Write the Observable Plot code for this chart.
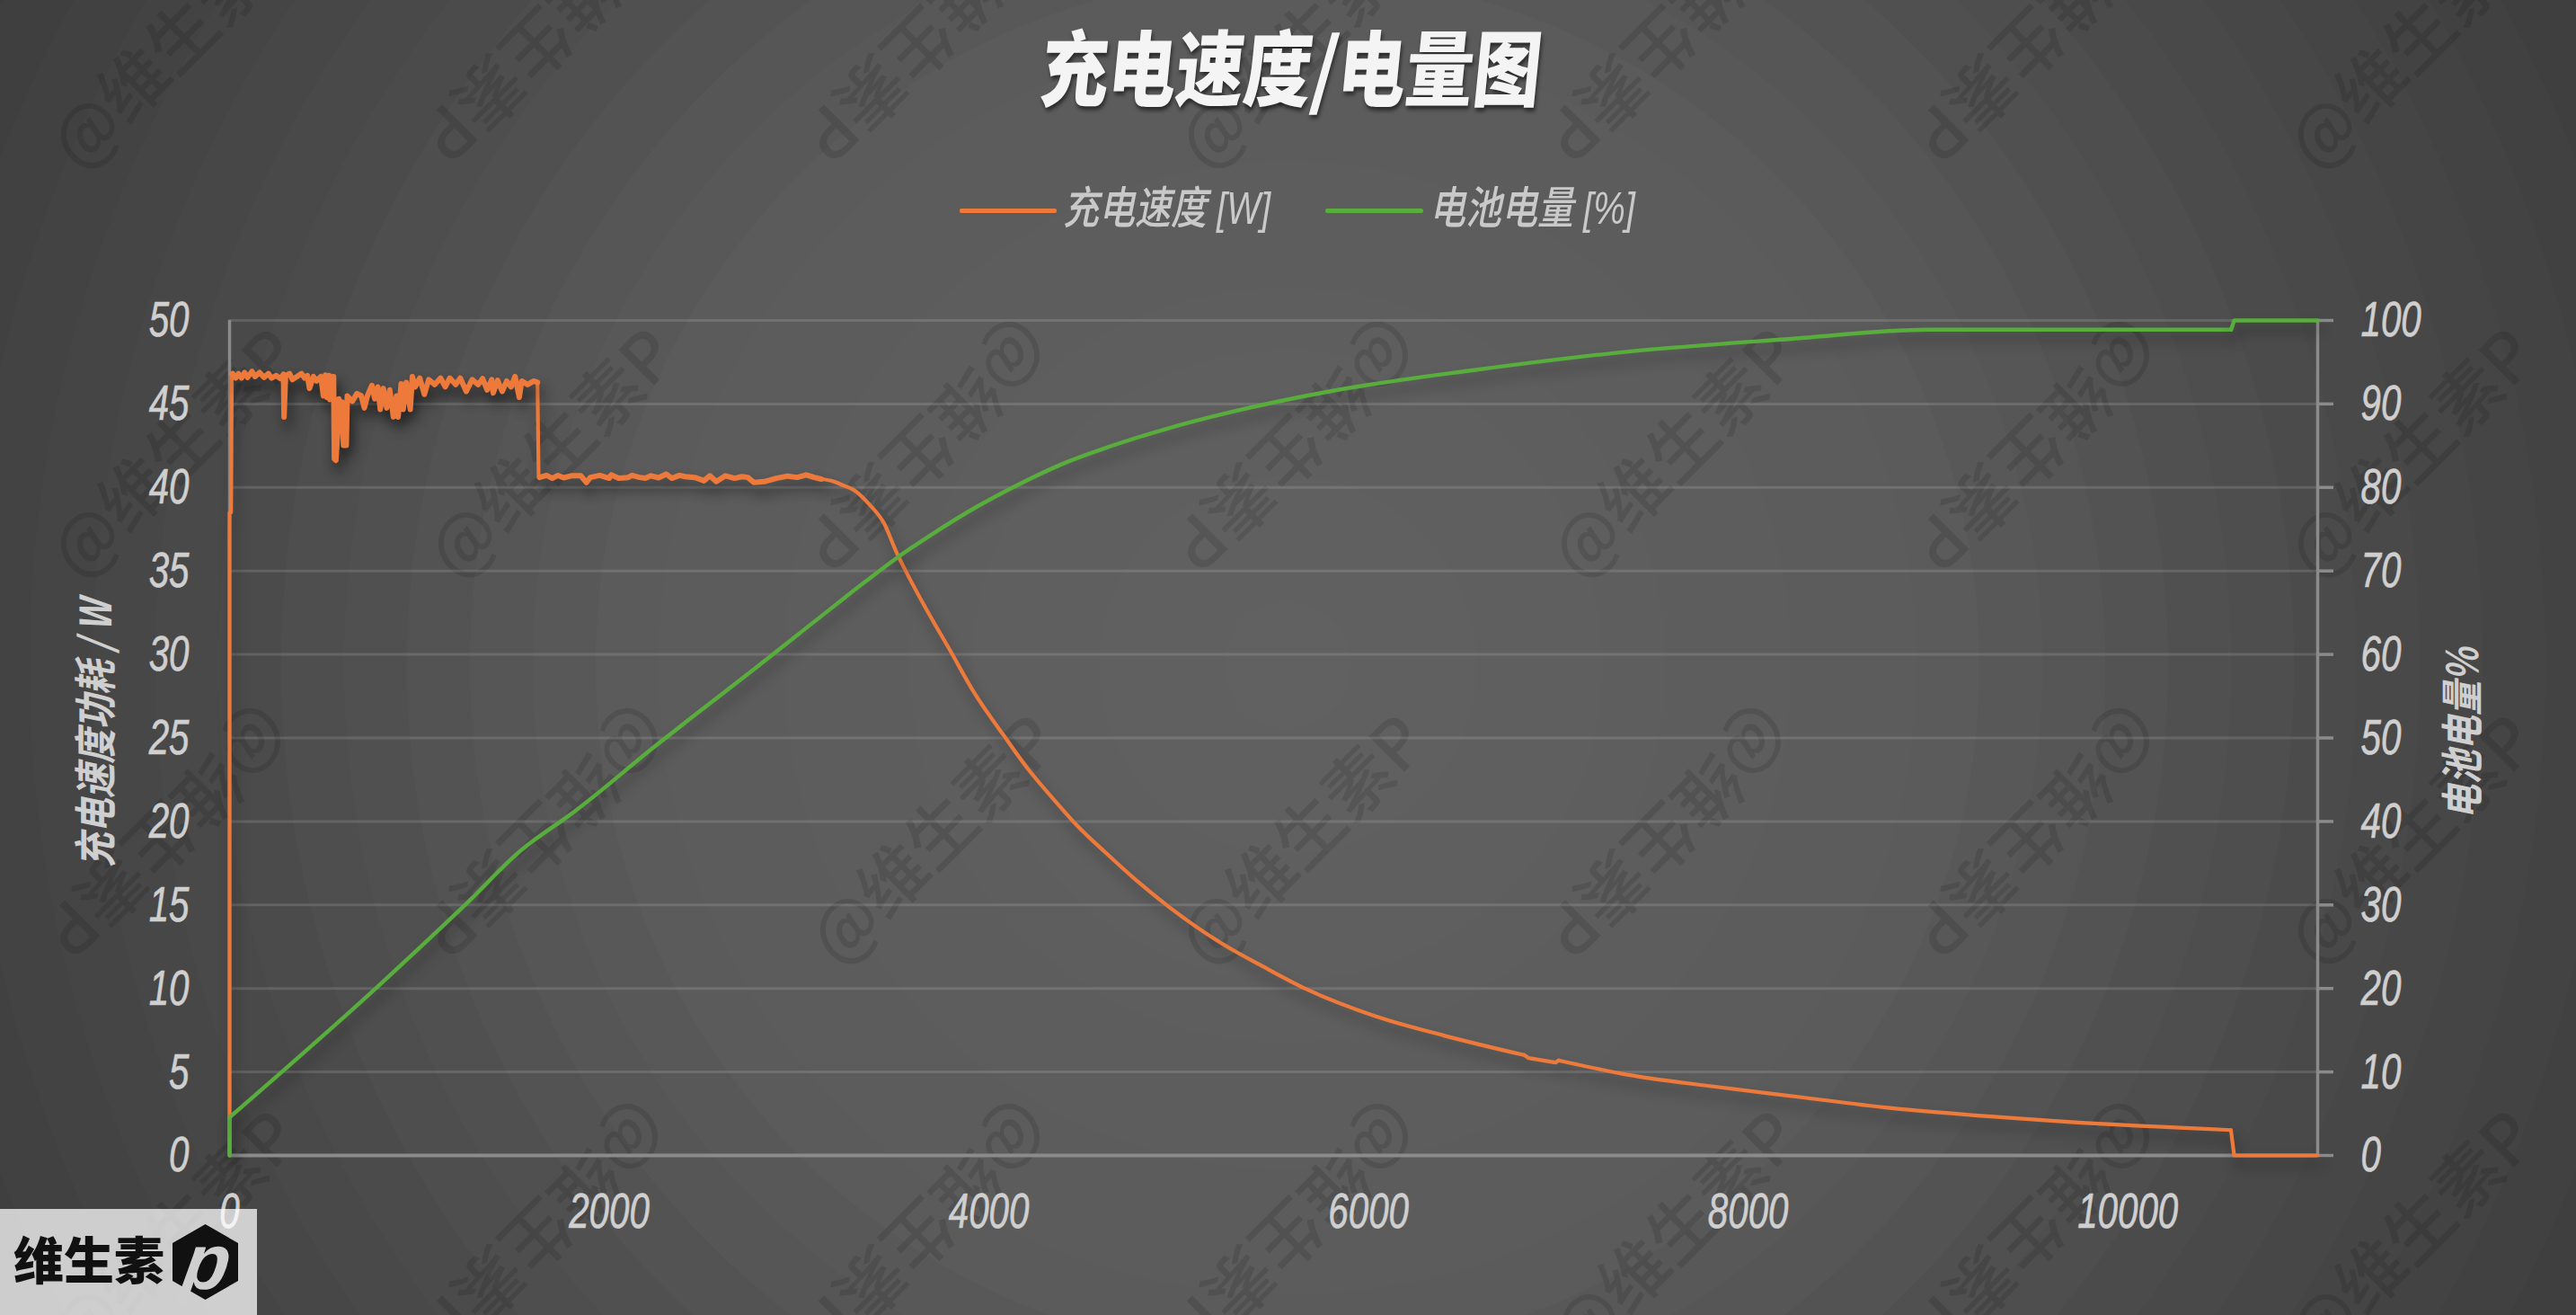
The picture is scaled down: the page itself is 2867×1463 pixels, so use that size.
<!DOCTYPE html>
<html lang="zh">
<head>
<meta charset="utf-8">
<script src="https://cdn.jsdelivr.net/npm/d3@7"></script>
<script src="https://cdn.jsdelivr.net/npm/@observablehq/plot@0.6"></script>
<style>
html,body{margin:0;padding:0;width:2867px;height:1463px;overflow:hidden;background:#4a4a4a;}
#page{position:absolute;left:0;top:0;width:2867px;height:1463px;overflow:hidden;font-family:"Liberation Sans","Noto Sans CJK SC",sans-serif;}
#marks,#chart,#over{position:absolute;left:0;top:0;width:2867px;height:1463px;}
.wm{position:absolute;white-space:nowrap;font:500 76px "Noto Sans CJK SC",sans-serif;color:rgba(0,0,0,.115);line-height:1;transform-origin:center center;}
#title{position:absolute;left:1438px;top:16px;white-space:nowrap;font:900 92px/1.2 "Noto Sans CJK SC",sans-serif;color:#f4f4f4;text-shadow:2px 4px 5px rgba(0,0,0,.55);transform:translateX(-50%) scaleX(.82) skewX(-7deg);}
.swatch{position:absolute;top:232px;height:5px;border-radius:2px;}
.lg{position:absolute;top:202px;white-space:nowrap;font:italic 500 50px/1.2 "Liberation Sans","Noto Sans CJK SC",sans-serif;color:#c9c9c9;transform-origin:left center;transform:scaleX(.8);}
#logo{position:absolute;left:0;top:1345px;width:286px;height:118px;background:rgba(255,255,255,.74);}
#logo .name{position:absolute;left:15px;top:20px;font:900 56px/1.2 "Noto Sans CJK SC",sans-serif;color:#111;white-space:nowrap;}
#logo .hex{position:absolute;left:192px;top:17px;width:73px;height:84px;background:#111;clip-path:polygon(50% 0,100% 25%,100% 75%,50% 100%,0 75%,0 25%);}
#logo .p{position:absolute;left:204px;top:6px;font:italic 700 88px/1.2 "Liberation Sans",sans-serif;color:#cfcfcf;transform:skewX(-10deg) scaleX(.95);}
.series{filter:drop-shadow(4px 10px 7px rgba(0,0,0,.33));}
g[aria-label$="tick label"] text{stroke:#cfcfcf;stroke-width:.7px;}
</style>
</head>
<body>
<div id="page">
  <div id="marks"></div>
  <div id="chart"></div>
  <div id="over">
    <div id="title">充电速度/电量图</div>
    <div class="swatch" style="left:1068px;width:108px;background:#ed7a3a"></div>
    <div class="lg" style="left:1183px">充电速度 [W]</div>
    <div class="swatch" style="left:1475px;width:109px;background:#58ad3c"></div>
    <div class="lg" style="left:1591px">电池电量 [%]</div>
    <div id="logo"><div class="name">维生素</div><div class="hex"></div><div class="p">p</div></div>
  </div>
</div>
<script>
// Charging power [W]: time (s) and watts
const powerTime = [0,0,8,12,16,32,47,63,79,95,118,134,158,181,205,221,245,268,284,287,295,316,331,355,379,395,410,421,442,458,481,494,505,513,524,529,544,548,552,560,568,576,584,592,600,615,620,647,671,694,710,726,750,765,781,794,810,828,844,863,879,888,904,915,931,952,963,978,1002,1026,1049,1081,1112,1136,1160,1191,1215,1247,1278,1310,1333,1357,1381,1389,1412,1436,1460,1483,1504,1526,1539,1570,1602,1622,1628,1633,1670,1700,1730,1760,1800,1850,1880,1900,1950,2000,2010,2050,2100,2120,2160,2190,2220,2260,2300,2330,2370,2400,2450,2500,2530,2564,2612,2660,2700,2730,2762,2817,2880,2940,2990,3038,3080,3117,3180,3227,3291,3369,3448,3512,3575,3669,3796,3922,4080,4206,4332,4459,4616,4774,4948,5220,5461,5672,6035,6397,6820,6844,6986,7001,7363,7817,8270,8722,9176,9683,10543,10560,11000];
const powerWatt = [0,38.5,38.5,46.8,46.82,46.55,46.82,46.55,46.88,46.59,46.95,46.64,46.88,46.59,46.82,46.55,46.70,46.52,46.77,44.22,46.70,46.82,46.46,46.64,46.82,46.55,46.70,45.93,46.64,46.37,46.64,45.48,46.73,45.39,46.70,45.26,46.64,46.64,41.71,41.62,42.97,45.30,43.33,45.12,42.52,42.52,45.48,45.16,45.62,45.48,44.76,45.48,46.11,45.30,46.02,44.67,45.93,44.76,45.84,44.22,45.48,44.22,46.20,44.67,46.29,44.67,46.64,46.02,46.55,45.57,46.46,46.16,46.55,46.02,46.55,46.16,46.55,45.75,46.46,46.16,46.52,45.84,46.46,45.66,46.41,45.75,46.37,46.02,46.64,45.39,46.37,46.16,46.37,46.29,40.63,40.6,40.72,40.55,40.72,40.58,40.7,40.7,40.3,40.6,40.72,40.55,40.75,40.55,40.6,40.72,40.6,40.55,40.7,40.58,40.8,40.55,40.72,40.65,40.6,40.4,40.7,40.35,40.7,40.55,40.65,40.6,40.3,40.35,40.55,40.68,40.6,40.75,40.6,40.5,40.37,40.15,39.83,39.0,37.85,36.15,34.71,32.74,30.23,27.72,25.12,23.14,21.44,19.82,18.12,16.5,14.89,12.74,11.21,9.96,8.34,7.18,6.01,5.83,5.56,5.69,4.84,4.13,3.5,2.87,2.42,2.01,1.52,0,0];
// Battery level [%]: time (s) and percent
const batteryTime = [0,0,774,1245,1560,1607,1788,2241,2817,3006,3196,3354,3512,3701,3922,4143,4396,4636,4932,5270,5819,6537,7382,8229,8947,10544,10560,11000];
const batteryPct = [0,4.57,20.1,30.1,37.0,37.8,40.7,49.0,59.2,62.6,66.0,68.8,71.5,74.4,77.5,80.2,82.9,84.9,87.0,89.0,91.6,94.0,96.3,97.8,98.9,98.9,100,100];
// Axis ticks
const xTicks = [0,2000,4000,6000,8000,10000];
const wattTicks = [0,5,10,15,20,25,30,35,40,45,50];
const pctTicks = [0,10,20,30,40,50,60,70,80,90,100];
// Repeating watermark: U = reading up-right, F = turned over
const watermark = "@维生素P";
const wmRows = ["UFFUFFU","UUFFUFU","FFUUFFU","UFFFUFU"];

const power = powerTime.map((t,i)=>({t,w:powerWatt[i]}));
const battery = batteryTime.map((t,i)=>({t,w:batteryPct[i]/2}));
// Stretches of a series, by index range into its rows
const idx = t => powerTime.indexOf(t);
const stretch = (rows,a,b) => rows.slice(a,b+1);
const pEarly = stretch(power,0,idx(3117));
const pFall  = stretch(power,idx(3117),idx(6820));
const pBlip  = stretch(power,idx(6820),idx(7001));
const pTail  = stretch(power,idx(7001),idx(10543));
const pEnd   = stretch(power,idx(10543),powerTime.length-1);
const pBand1 = stretch(power,idx(12),idx(1622));
const pBand2 = stretch(power,idx(1633),idx(3117));
const n = battery.length;
const bStart = stretch(battery,0,1);
const bCurve = stretch(battery,1,n-3);
const bEnd   = stretch(battery,n-3,n-1);

// Background with fine concentric bands
const lum = d3.scaleLinear([0,700,1150,1433,1700],[0x61,0x5b,0x4a,0x42,0x3b]);
const stops = [];
for(let r=0;r<1700;r+=70){const v=Math.round(lum(r));const c=`rgb(${v},${v},${v})`;stops.push(`${c} ${r}px`,`${c} ${r+70}px`);}
document.getElementById("page").style.background=`radial-gradient(circle at 1433px 740px,${stops.join(",")})`;

// Watermarks
const wmX=[190,610,1035,1445,1860,2270,2680], wmY=[45,500,930,1370];
const host=document.getElementById("marks");
wmRows.forEach((row,r)=>[...row].forEach((k,c)=>{
  const s=document.createElement("div");s.className="wm";s.textContent=watermark;
  s.style.left=wmX[c]+"px";s.style.top=wmY[r]+"px";
  s.style.transform=`translate(-50%,-50%) rotate(${k==="U"?-45:135}deg)`;
  host.appendChild(s);
}));

const tickFont={fontFamily:"Liberation Sans",fontStyle:"italic",fontSize:56,fill:"#cfcfcf",label:null};
const axisTitle={rotate:-90,textAnchor:"middle",fontSize:48,fontWeight:700,fontStyle:"italic",fontFamily:"Noto Sans CJK SC",fill:"#cfcfcf",className:"cond"};
const orange={x:"t",y:"w",stroke:"#ed7a3a",strokeWidth:4.2,strokeLinejoin:"round",strokeLinecap:"round",className:"series"};
const green={x:"t",y:"w",stroke:"#58ad3c",strokeWidth:4.4,strokeLinejoin:"round",strokeLinecap:"round",className:"series"};
const plot=Plot.plot({
  width:2867,height:1463,
  marginLeft:255,marginRight:288,marginTop:356,marginBottom:178,
  style:{background:"transparent",overflow:"visible"},
  x:{domain:[0,11000]},
  y:{domain:[0,50]},
  marks:[
    Plot.gridY(wattTicks,{stroke:"#fff",strokeOpacity:.13,strokeWidth:3}),
    Plot.ruleX([0,11000],{stroke:"#8b8b8b",strokeWidth:3.5}),
    Plot.ruleY([0],{stroke:"#8b8b8b",strokeWidth:4}),
    Plot.axisX({ticks:xTicks,tickFormat:d=>String(d),tickSize:0,tickPadding:41,...tickFont}),
    Plot.axisY({ticks:wattTicks,tickSize:0,tickPadding:45,anchor:"left",...tickFont}),
    Plot.axisY({ticks:pctTicks.map(p=>p/2),tickFormat:d=>String(d*2),anchor:"right",tickSize:17,tickPadding:31,stroke:"#8b8b8b",strokeWidth:3.5,...tickFont}),
    Plot.text(["充电速度功耗 / W"],{frameAnchor:"left",dx:-147,dy:-5,...axisTitle}),
    Plot.text(["电池电量%"],{frameAnchor:"right",dx:163,dy:-5,...axisTitle}),
    Plot.line(pEarly,orange),
    Plot.line(pBand1,{...orange,strokeWidth:6}),
    Plot.line(pBand2,{...orange,strokeWidth:6}),
    Plot.line(pFall,{...orange,curve:"monotone-x"}),
    Plot.line(pBlip,orange),
    Plot.line(pTail,{...orange,curve:"monotone-x"}),
    Plot.line(pEnd,orange),
    Plot.line(bStart,green),
    Plot.line(bCurve,{...green,curve:"monotone-x"}),
    Plot.line(bEnd,green)
  ]
});
document.getElementById("chart").appendChild(plot);
// Condense glyphs like the reference's narrow typeface
plot.querySelectorAll('g[aria-label$="tick label"] text').forEach(t=>{
  t.setAttribute("transform",(t.getAttribute("transform")||"")+" scale(.72,1)");
});
plot.querySelectorAll('g.cond text').forEach(t=>{
  t.setAttribute("transform",(t.getAttribute("transform")||"")+" scale(.8,1)");
});
</script>
</body>
</html>
